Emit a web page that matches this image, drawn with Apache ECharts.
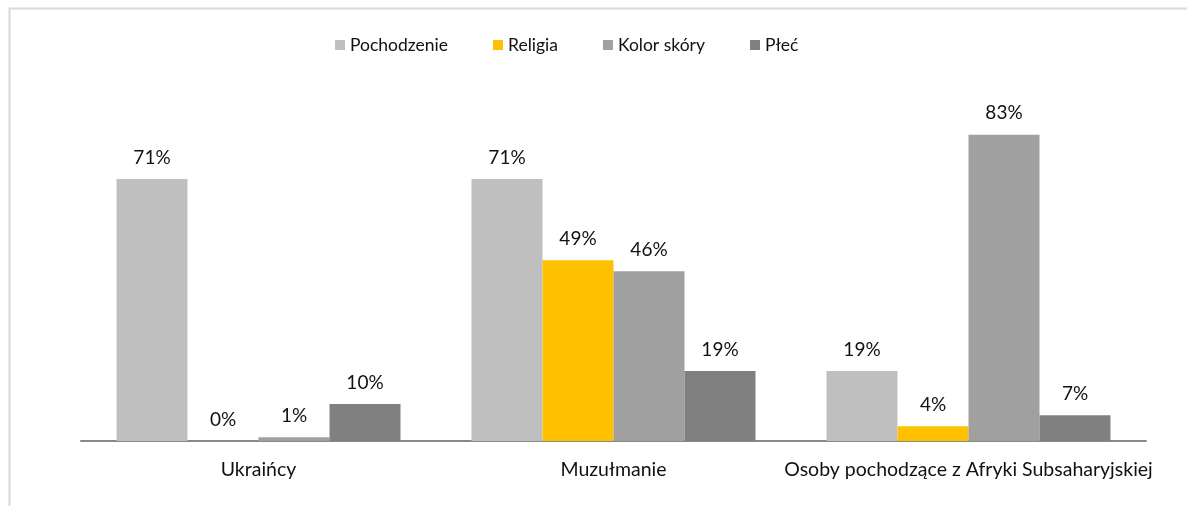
<!DOCTYPE html>
<html>
<head>
<meta charset="utf-8">
<script src="https://cdn.jsdelivr.net/npm/echarts@6/dist/echarts.min.js"></script>
<style>
  html, body { margin: 0; padding: 0; background: #fff; }
  #chart { width: 1187px; height: 506px; }
</style>
</head>
<body>
<div id="chart"></div>
<script>
// dane z wykresu (w %)
const categories = ["Ukraińcy", "Muzułmanie", "Osoby pochodzące z Afryki Subsaharyjskiej"];
const seriesNames = ["Pochodzenie", "Religia", "Kolor skóry", "Płeć"];
const pochodzenie = [71, 71, 19];
const religia = [0, 49, 4];
const kolorSkory = [1, 46, 83];
const plec = [10, 19, 7];
const colors = ["#BFBFBF", "#FFC000", "#A0A0A0", "#808080"];

const chart = echarts.init(document.getElementById("chart"));
const values = [pochodzenie, religia, kolorSkory, plec];

const option = {
  animation: false,
  color: colors,
  textStyle: { fontFamily: "Lato", color: "#111" },
  graphic: [
    {
      type: "rect",
      left: 7,
      top: 6,
      shape: { width: 1200, height: 520 },
      style: { fill: "none", stroke: "#d9d9d9", lineWidth: 2 },
      silent: true,
    },
  ],
  legend: {
    top: 31,
    left: 330,
    itemWidth: 10,
    itemHeight: 10,
    itemGap: 45,
    icon: "rect",
    textStyle: { fontSize: 17.5, color: "#111", fontFamily: "Lato" },
    data: seriesNames,
  },
  grid: {
    left: 81,
    right: 41,
    top: 109,
    bottom: 65,
  },
  xAxis: {
    type: "category",
    data: categories,
    axisTick: { show: false },
    axisLine: { show: true, lineStyle: { color: "#898989", width: 2 } },
    axisLabel: { interval: 0, fontSize: 19.5, color: "#111", margin: 19, fontFamily: "Lato" },
  },
  yAxis: {
    type: "value",
    min: 0,
    max: 90,
    show: false,
    splitLine: { show: false },
  },
  series: seriesNames.map((name, i) => ({
    name: name,
    type: "bar",
    barGap: "0%",
    barCategoryGap: "20%",
    data: values[i],
    label: {
      show: true,
      position: "top",
      distance: 12,
      fontSize: 19,
      color: "#111",
      fontFamily: "Lato",
      formatter: (p) => p.value + "%",
    },
  })),
};

chart.setOption(option);
</script>
</body>
</html>
